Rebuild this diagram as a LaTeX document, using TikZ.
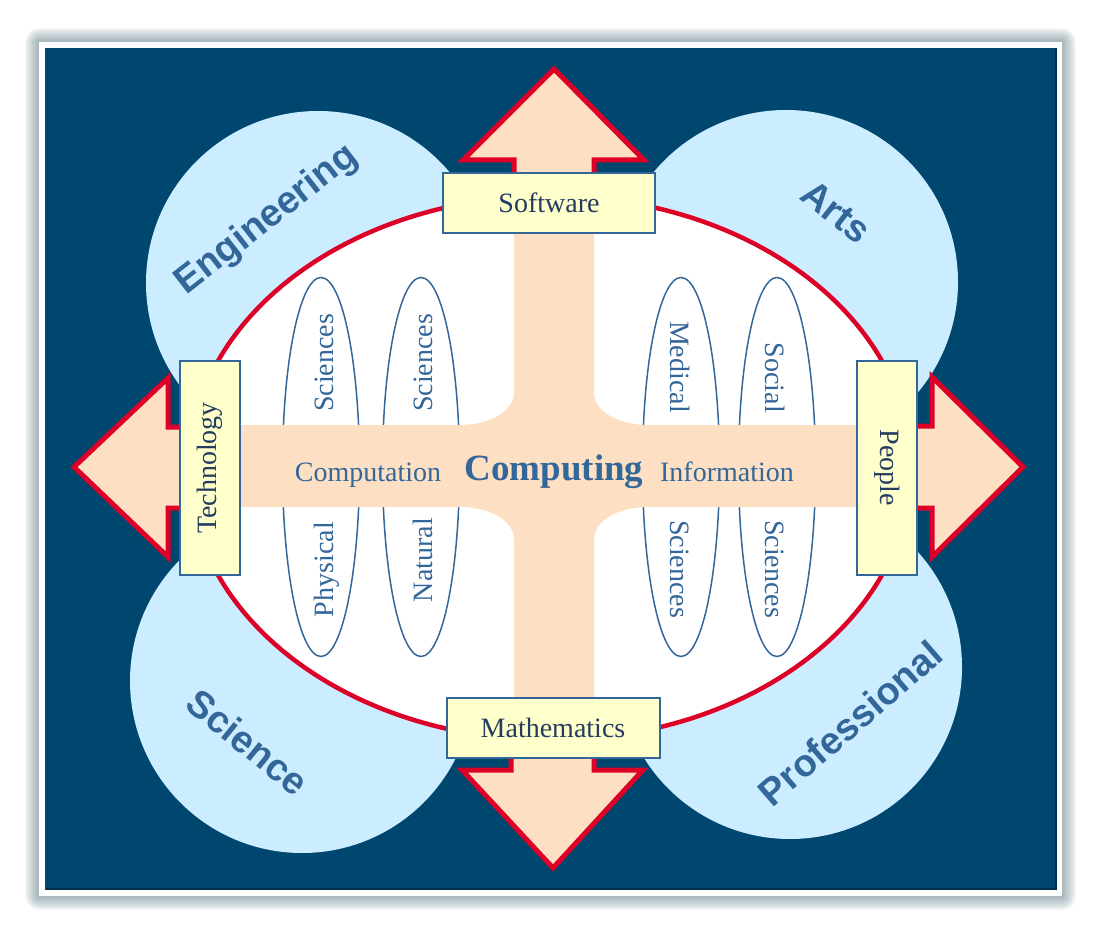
\documentclass[tikz,border=0pt]{standalone}
\usepackage{fontspec}
\setmainfont{Liberation Serif}
\setsansfont{Liberation Sans}
\usetikzlibrary{shapes.geometric}

\definecolor{bgblue}{RGB}{0,71,112}
\definecolor{bgdark}{RGB}{0,45,75}
\definecolor{areablue}{RGB}{204,236,255}
\definecolor{fieldred}{RGB}{221,0,39}
\definecolor{peach}{RGB}{253,224,195}
\definecolor{boxyellow}{RGB}{255,255,204}
\definecolor{textblue}{RGB}{51,102,153}
\definecolor{boxtext}{RGB}{35,60,95}
\definecolor{shadowgrey}{RGB}{90,120,130}

\tikzset{
  fieldbox/.style={draw=textblue, line width=2, fill=boxyellow, inner sep=0pt,
    text=boxtext, font=\fontsize{28}{30}\selectfont},
  arrowshape/.style={fill=peach, draw=fieldred, line width=5, line join=miter},
  sciring/.style={ellipse, draw=textblue, line width=1.5, inner sep=0pt,
    minimum width=77, minimum height=379},
  bandtext/.style={text=textblue, inner sep=0pt, font=\fontsize{28}{30}\selectfont},
  arealabel/.style={text=textblue, font=\sffamily\bfseries\fontsize{38}{40}\selectfont}
}

\begin{document}
\begin{tikzpicture}[x=1pt,y=-1pt]
\useasboundingbox (0,0) rectangle (1101,933);

% Frame with shadow
\foreach \s in {1,...,14}
  \fill[shadowgrey, opacity=0.05, rounded corners=\s pt] ({39-\s},{42-\s}) rectangle ({1062+\s},{896+\s});
\fill[white] (39,42) rectangle (1062,896);
\fill[bgblue] (45,48) rectangle (1057,890);
\draw[bgdark, line width=2] (46,889) -- (1056,889) -- (1056,49);

% Areas
\fill[areablue] (318,283) circle[radius=172];
\fill[areablue] (786,282) circle[radius=172];
\fill[areablue] (302,681) circle[radius=172];
\fill[areablue] (790,667) circle[radius=172];

% Field of computing
\filldraw[fill=white, draw=fieldred, line width=4.5] (550,468) ellipse[x radius=361, y radius=272];

% Sciences
\foreach \x/\n in {321/phys, 421/nat, 681/med, 777/soc}
  \node[sciring] (\n) at (\x,467) {};

% Cross band
\fill[peach] (200,425) -- (460,425) .. controls (490,425) and (514,411) .. (514,393)
  -- (514,200) -- (594,200) -- (594,393) .. controls (594,411) and (618,425) .. (648,425)
  -- (900,425) -- (900,507) -- (648,507) .. controls (618,507) and (594,521) .. (594,539)
  -- (594,740) -- (514,740) -- (514,539) .. controls (514,521) and (490,507) .. (460,507)
  -- (200,507) -- cycle;

% Arrows
\draw[arrowshape] (514,205) -- (514,160) -- (463,160) -- (554,69) -- (644,160) -- (594,160) -- (594,205) -- cycle;
\draw[arrowshape] (511,740) -- (511,770) -- (462,770) -- (553,868) -- (643,770) -- (594,770) -- (594,740) -- cycle;
\draw[arrowshape] (200,427) -- (168,427) -- (168,378) -- (74,467) -- (168,557) -- (168,508) -- (200,508) -- cycle;
\draw[arrowshape] (880,426) -- (932,426) -- (932,377) -- (1023,467) -- (932,557) -- (932,508) -- (880,508) -- cycle;

% Boxes
\node[fieldbox, minimum width=212, minimum height=60] (software) at (549,203) {Software};
\node[fieldbox, minimum width=213, minimum height=60] (maths) at (553,728) {Mathematics};
\node[fieldbox, rotate=90, minimum width=213, minimum height=60] (tech) at (210,468) {Technology};
\node[fieldbox, rotate=-90, minimum width=213, minimum height=60] (people) at (887,468) {People};

% Band labels
\node[bandtext, anchor=base] (comp) at (368,481) {Computation};
\node[bandtext, anchor=base, font=\bfseries\fontsize{37}{40}\selectfont] (computing) at (554,480) {Computing};
\node[bandtext, anchor=base] (info) at (727,481) {Information};

% Sciences labels
\node[bandtext, rotate=90, anchor=base west] (physa) at (333,412) {Sciences};
\node[bandtext, rotate=90, anchor=base east] (physb) at (333,522) {Physical};
\node[bandtext, rotate=90, anchor=base west] (nata) at (432,412) {Sciences};
\node[bandtext, rotate=90, anchor=base east] (natb) at (432,518) {Natural};
\node[bandtext, rotate=-90, anchor=base east] (meda) at (670,413) {Medical};
\node[bandtext, rotate=-90, anchor=base west] (medb) at (670,520) {Sciences};
\node[bandtext, rotate=-90, anchor=base east] (soca) at (765,413) {Social};
\node[bandtext, rotate=-90, anchor=base west] (socb) at (765,520) {Sciences};

% Area labels
\node[arealabel, rotate=38] (eng) at (267,220) {Engineering};
\node[arealabel, rotate=-38] (arts) at (836,212) {Arts};
\node[arealabel, rotate=-39] (sci) at (248,742) {Science};
\node[arealabel, rotate=41] (prof) at (850,723) {Professional};
\end{tikzpicture}
\end{document}
